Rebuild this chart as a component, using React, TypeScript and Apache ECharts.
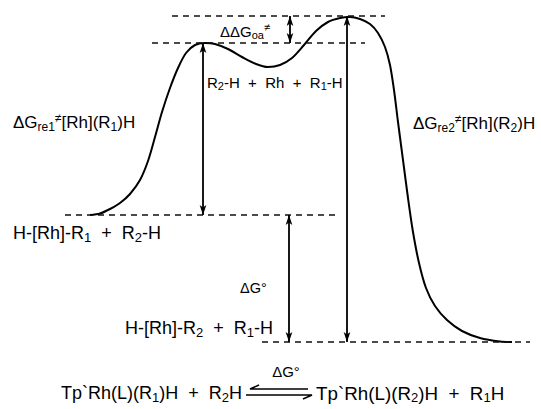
import React, { useEffect, useRef } from "react";
import * as echarts from "echarts";

// Reaction coordinate (x) and free energy (arbitrary units; H-[Rh]-R1 + R2-H = 0)
const curveX = [90, 100, 110, 120, 130, 140, 148, 155, 162, 170, 178, 186, 195, 205, 215, 228, 242, 256, 268, 280, 292, 304, 316, 328, 340, 350, 360, 370, 378, 385, 390, 394, 398, 403, 408, 413, 419, 426, 435, 447, 462, 480, 500, 512];
const curveE = [0, 0.15, 0.6, 1.2, 2.1, 3.5, 5.4, 7.8, 10.3, 12.7, 14.7, 16.2, 17.0, 17.2, 17.1, 16.6, 15.8, 15.1, 14.8, 15.0, 15.7, 17.0, 18.4, 19.3, 19.7, 19.8, 19.6, 19.1, 18.2, 16.8, 15.0, 12.5, 9.3, 5.5, 1.7, -1.7, -4.8, -7.3, -9.1, -10.5, -11.6, -12.3, -12.65, -12.7];

// Energy levels (dashed guides)
const levelNames = ["TS2", "TS1", "reactants", "products"];
const levelE = [19.9, 17.2, 0, -12.7];
const levelXStart = [172, 152, 65, 262];
const levelXEnd = [385, 365, 340, 530];

// Double-headed arrows between levels
const arrowNames = ["ΔGre1", "ΔΔGoa", "ΔGre2", "ΔG°"];
const arrowX = [203, 290, 347, 289];
const arrowFromLevel = [1, 0, 0, 2];
const arrowToLevel = [2, 1, 3, 3];

const FONT = "'Liberation Sans', Arial, Helvetica, sans-serif";

function rich(size: number) {
  const s = Math.round(size * 0.7);
  return {
    s: { fontSize: s, fontFamily: FONT, fill: "#000", padding: [Math.round(size * 0.5), 0, 0, 0] },
    p: { fontSize: s, fontFamily: FONT, fill: "#000", padding: [0, 0, Math.round(size * 0.55), 0] },
  };
}

function label(x: number, y: number, text: string, size = 14, align = "left") {
  return {
    type: "text",
    x,
    y,
    silent: true,
    style: {
      text,
      fill: "#000",
      font: `${size}px ${FONT}`,
      fontSize: size,
      fontFamily: FONT,
      align,
      verticalAlign: "middle",
      rich: rich(size),
    },
  };
}

export default function App() {
  const ref = useRef<HTMLDivElement>(null);
  useEffect(() => {
    if (!ref.current) return;
    const chart = echarts.init(ref.current, undefined, { renderer: "svg" });
    const black = "#000";
    const option: any = {
      animation: false,
      backgroundColor: "#fff",
      grid: { left: 0, right: 0, top: 0, bottom: 0 },
      xAxis: { type: "value", min: 0, max: 541, show: false },
      yAxis: { type: "value", min: -19.4, max: 21.5, show: false },
      series: [
        {
          name: "profile",
          type: "line",
          data: curveX.map((x, i) => [x, curveE[i]]),
          smooth: 0.3,
          symbol: "none",
          lineStyle: { color: black, width: 2 },
          silent: true,
        },
        ...levelNames.map((n, i) => ({
          name: n,
          type: "line",
          data: [
            [levelXStart[i], levelE[i]],
            [levelXEnd[i], levelE[i]],
          ],
          symbol: "none",
          lineStyle: { color: "#111", width: 1.5, type: [6, 5] },
          silent: true,
        })),
        {
          name: "arrows",
          type: "line",
          data: [],
          markLine: {
            silent: true,
            symbol: ["arrow", "arrow"],
            symbolSize: [5, 10],
            label: { show: false },
            lineStyle: { color: black, width: 1.8, type: "solid" },
            emphasis: { disabled: true },
            data: arrowNames.map((n, i) => [
              { name: n, coord: [arrowX[i], levelE[arrowFromLevel[i]]] },
              { coord: [arrowX[i], levelE[arrowToLevel[i]]] },
            ]),
          },
        },
      ],
      graphic: [
        label(220, 31, "ΔΔG{s|oa}{p|≠}", 15),
        label(207, 82, "R{s|2}-H  +  Rh  +  R{s|1}-H", 15),
        label(13, 122, "ΔG{s|re1}{p|≠}[Rh](R{s|1})H", 17),
        label(413, 123, "ΔG{s|re2}{p|≠}[Rh](R{s|2})H", 17),
        label(13, 233, "H-[Rh]-R{s|1}  +  R{s|2}-H", 18),
        label(240, 288, "ΔG°", 14.5),
        label(125, 328, "H-[Rh]-R{s|2}  +  R{s|1}-H", 18),
        label(286, 371, "ΔG°", 15, "center"),
        label(242, 393, "Tp`Rh(L)(R{s|1})H  +  R{s|2}H", 18, "right"),
        label(316, 393, "Tp`Rh(L)(R{s|2})H  +  R{s|1}H", 18.8, "left"),
        {
          type: "polyline",
          silent: true,
          shape: { points: [[259, 385], [250, 389], [308, 389]] },
          style: { stroke: black, lineWidth: 1.5, fill: "none" },
        },
        {
          type: "polyline",
          silent: true,
          shape: { points: [[246, 395], [312, 395], [303, 399]] },
          style: { stroke: black, lineWidth: 1.5, fill: "none" },
        },
      ],
    };
    chart.setOption(option);
    return () => chart.dispose();
  }, []);
  return (
    <div
      ref={ref}
      style={{ position: "fixed", left: 0, top: 0, width: 541, height: 409, background: "#fff" }}
    />
  );
}
